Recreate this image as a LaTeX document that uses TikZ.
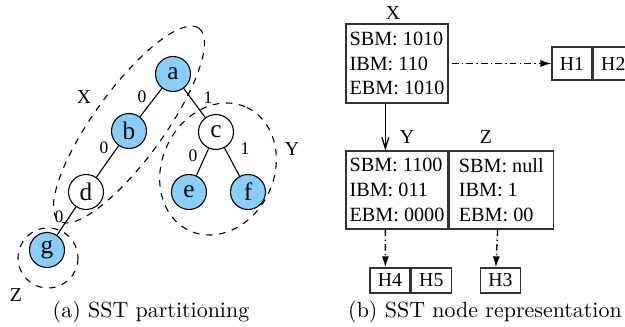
\documentclass[tikz,border=0pt]{standalone}
\usepackage{fontspec}
\newfontfamily\timesfont{Liberation Serif}
\usetikzlibrary{%
  arrows.meta,%
  positioning,% wg. " of "
  calc%
}
\definecolor{leafblue}{RGB}{135,206,250}

\begin{document}
\begin{tikzpicture}[
  x=0.016cm, y=-0.016cm,
  font=\timesfont\fontsize{9}{10.6}\selectfont,
  line width=0.6pt,
  vertex/.style={circle, inner sep=0pt, minimum size=0.56cm, draw=black, line width=0.5pt, font=\timesfont\fontsize{11.5}{13}\selectfont},
  leaf/.style={vertex, fill=leafblue},
  elabel/.style={inner sep=0pt, font=\timesfont\fontsize{8}{9}\selectfont},
  group/.style={dashed, line width=0.5pt},
  sstbox/.style={rectangle, draw=black!80, inner sep=0pt, minimum height=1.264cm, align=left, font=\timesfont\fontsize{9.2}{11.2}\selectfont},
  hcell/.style={rectangle, draw=black!80, inner sep=0pt, minimum width=0.64cm},
  dashdot/.style={dash pattern=on 3pt off 1.5pt on 0.6pt off 1.5pt},
  caption/.style={font=\normalfont\fontsize{10}{12}\selectfont}
]
\useasboundingbox (0,0) rectangle (625,327);

% (a) tree
\node[leaf]   (a) at (173,74)  {a};
\node[leaf]   (b) at (129,131) {b};
\node[vertex] (c) at (216,132) {c};
\node[vertex] (d) at (86,192)  {d};
\node[leaf]   (e) at (189,192) {e};
\node[leaf]   (f) at (248,192) {f};
\node[leaf]   (g) at (47,250)  {g};

\draw[line width=0.5pt] (a) -- (b);
\draw[line width=0.5pt] (a) -- (c);
\draw[line width=0.5pt] (b) -- (d);
\draw[line width=0.5pt] (c) -- (e);
\draw[line width=0.5pt] (c) -- (f);
\draw[line width=0.5pt] (d) -- (g);

\node[elabel] (lab) at (142,97)  {0};
\node[elabel] (lac) at (208,98)  {1};
\node[elabel] (lbd) at (104,148) {0};
\node[elabel] (lce) at (193,156) {0};
\node[elabel] (lcf) at (245,149) {1};
\node[elabel] (ldg) at (59,217)  {0};

\draw[group, rotate around={54:(129,124.5)}] (129,124.5) ellipse [x radius=119, y radius=35];
\draw[group, rotate around={65:(218,169)}] (218,169) ellipse [x radius=68, y radius=56];
\draw[group] (48,258) circle [radius=30];

\node (gX) at (84,97)  {X};
\node (gY) at (292,149) {Y};
\node (gZ) at (16,295) {Z};

\node[caption] (capa) at (151,312) {(a) SST partitioning};

% (b) node representation
\node[sstbox, minimum width=1.632cm] (Xbox) at (397,63.5) {SBM: 1010\\IBM: 110\\EBM: 1010};
\node (Xlab) at (393,13) {X};

\node[sstbox, minimum width=1.632cm, minimum height=1.248cm] (Ybox) at (397,190) {SBM: 1100\\IBM: 011\\EBM: 0000};
\node[sstbox, minimum width=1.664cm, minimum height=1.248cm, right=0pt of Ybox] (Zbox) {SBM: null\\IBM: 1\\EBM: 00};
\node (Ylab) at (407,137) {Y};
\node (Zlab) at (486,137) {Z};

\node[hcell, minimum height=0.528cm] (H1) at (572,63.5) {H1};
\node[hcell, minimum height=0.528cm, right=0pt of H1] (H2) {H2};
\node[hcell, minimum height=0.4cm] (H4) at (390,280.5) {H4};
\node[hcell, minimum height=0.4cm, right=0pt of H4] (H5) {H5};
\node[hcell, minimum height=0.4cm] (H3) at (500.5,280.5) {H3};

\draw[-{Straight Barb[length=5pt,width=3.2pt]}] ([xshift=0.64cm]Xbox.south west) -- ([xshift=0.64cm]Ybox.north west);
\draw[dashdot, -{Latex[length=5pt,width=3.2pt]}] ([xshift=1.5pt]Xbox.east) -- (H1.west);
\draw[dashdot, -{Latex[length=5pt,width=3.2pt]}] ([xshift=0.64cm]Ybox.south west) -- ([xshift=0.256cm]H4.north west);
\draw[dashdot, -{Latex[length=5pt,width=3.2pt]}] ([xshift=0.784cm]Zbox.south west) -- ([xshift=0.256cm]H3.north west);

\node[caption] (capb) at (485,312) {(b) SST node representation};

\end{tikzpicture}
\end{document}
